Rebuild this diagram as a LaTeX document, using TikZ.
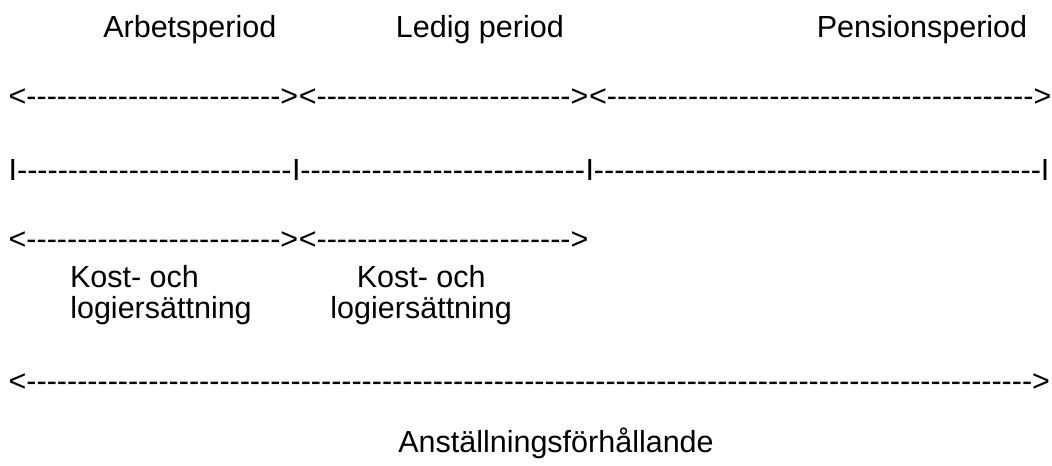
\documentclass[tikz,border=0pt]{standalone}
\usepackage{fontspec}
\setmainfont{Liberation Sans}[Ligatures=TeXOff]
\usetikzlibrary{positioning}
\newcommand\dashes[1]{\foreach \k in {1,...,#1}{-}}

\begin{document}
\begin{tikzpicture}[
  font=\fontsize{21.7pt}{22pt}\selectfont,
  % --- styles ---
  lbl/.style={inner sep=0pt, anchor=base west},
  clbl/.style={inner sep=0pt, anchor=base},
  seg/.style={inner sep=0pt, anchor=base west}
]
\useasboundingbox (0,0) rectangle (26.3,11.625);

% ======================================================
% Period titles (top line)
% ======================================================
\node[lbl] (arb)   at ( 2.575,10.675) {Arbetsperiod};
\node[lbl] (ledig) at ( 9.89, 10.675) {Ledig period};
\node[lbl] (pens)  at (20.415,10.675) {Pensionsperiod};

% ======================================================
% Period spans
% ======================================================
\node[seg] (arbspan) at (0.21,8.95) {<\dashes{25}>};
\node[seg, base right=0pt of arbspan] (ledspan) {<\dashes{25}>};
\node[seg, base right=0pt of ledspan] (penspan) {<\dashes{42}>};

% ======================================================
% Time line with marks
% ======================================================
\node[seg] (tick1) at (0.21,7.125) {I\dashes{27}};
\node[seg, base right=0pt of tick1] (tick2) {I\dashes{28}};
\node[seg, base right=0pt of tick2] (tick3) {I\dashes{44}I};

% ======================================================
% Kost- och logiersättning
% ======================================================
\node[seg] (kostspan1) at (0.21,5.4) {<\dashes{25}>};
\node[seg, base right=0pt of kostspan1] (kostspan2) {<\dashes{25}>};

\node[lbl]  (kost1) at (1.745,4.45)  {Kost- och};
\node[lbl]  (logi1) at (1.75, 3.675) {logiersättning};
\node[clbl] (kost2) at (10.53,4.45)  {Kost- och};
\node[clbl] (logi2) at (10.53,3.675) {logiersättning};

% ======================================================
% Employment
% ======================================================
\node[seg] (anstspan) at (0.21,1.85) {<\dashes{99}>};
\node[lbl] (anst) at (9.95,0.325) {Anställningsförhållande};

\end{tikzpicture}
\end{document}
